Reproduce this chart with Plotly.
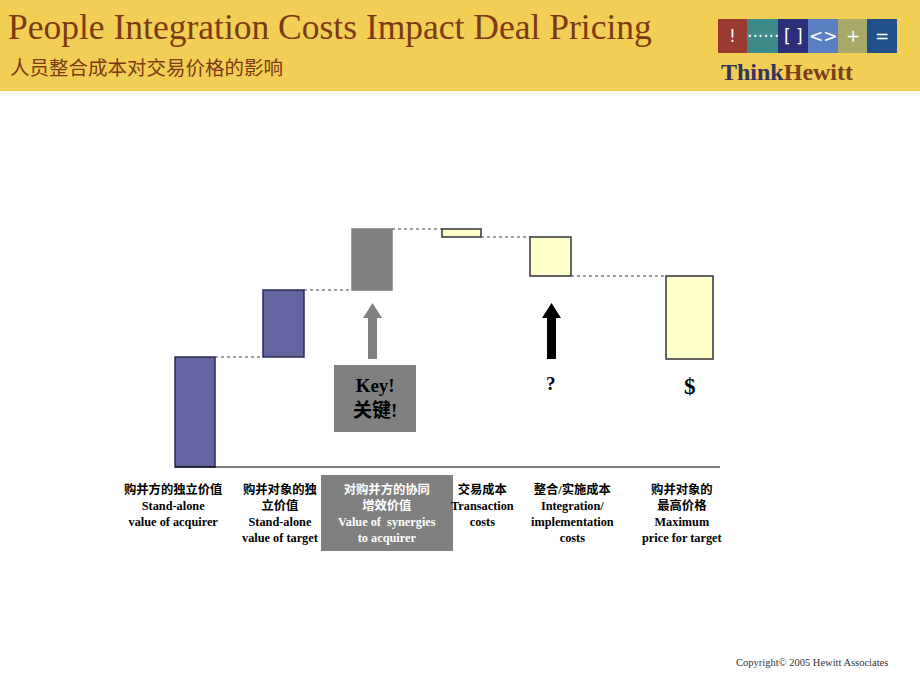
import plotly.graph_objects as go

# ---------------- data ----------------
categories = ["acquirer", "target", "synergies", "transaction", "integration", "max_price"]
step_values = [110, 67, 61, -8, -39]          # waterfall steps
max_price_low = 108                            # bottom of the floating "maximum price" bar
label_cn = ["购并方的独立价值", "购并对象的独<br>立价值", "对购并方的协同<br>增效价值",
            "交易成本", "整合/实施成本", "购并对象的<br>最高价格"]
label_en = ["Stand-alone<br>value of acquirer", "Stand-alone<br>value of target",
            "Value of  synergies<br>to acquirer", "Transaction<br>costs",
            "Integration/<br>implementation<br>costs", "Maximum<br>price for target"]

# ---------------- layout constants ----------------
W, H = 920, 690
BASE_PY = 467                       # pixel row of the zero line
x_pos = [195, 283.5, 372, 461.5, 550.5, 689.5]
bar_w = [40, 41, 40, 39, 41, 47]
label_x = [173, 280, 387, 482, 572, 682]
fills = ["#6464A0", "#6464A0", "#808080", "#FFFFCC", "#FFFFCC", "#FFFFCC"]
lines = ["#2A2A55", "#2A2A55", "#808080", "#333333", "#333333", "#333333"]

SERIF = "Liberation Serif, Noto Sans CJK SC, serif"


def py(v):
    """pixel row -> y data value"""
    return BASE_PY - v


# running totals
bases, heights, totals = [], [], []
run = 0
for v in step_values:
    if v >= 0:
        bases.append(run)
        heights.append(v)
    else:
        bases.append(run + v)
        heights.append(-v)
    run += v
    totals.append(run)
bases.append(max_price_low)
heights.append(run - max_price_low)

fig = go.Figure()
fig.add_trace(go.Bar(
    x=x_pos, y=heights, base=bases, width=bar_w,
    marker=dict(color=fills, line=dict(color=lines, width=1.5)),
    hoverinfo="skip", showlegend=False,
))

shapes = []
# header band
shapes.append(dict(type="rect", xref="paper", yref="paper", x0=0, x1=1,
                   y0=1 - 91 / H, y1=1, fillcolor="#F1CF55", line=dict(width=0), layer="below"))
# logo boxes
logo_edges = [718, 747, 778, 808, 838, 867, 897]
logo_cols = ["#9B3A32", "#3E8A8A", "#2E2F7A", "#5A7FC0", "#A8A86A", "#20508A"]
logo_sym = ["!", "······", "[ ]", "<>", "+", "="]
for i, c in enumerate(logo_cols):
    shapes.append(dict(type="rect", xref="x", yref="y", x0=logo_edges[i], x1=logo_edges[i + 1],
                       y0=py(53), y1=py(19), fillcolor=c, line=dict(width=0)))

# zero line
shapes.append(dict(type="line", xref="x", yref="y", x0=175, x1=720, y0=0, y1=0,
                   line=dict(color="black", width=1)))

# connectors
for i in range(len(step_values)):
    x0 = x_pos[i] + bar_w[i] / 2
    x1 = x_pos[i + 1] - bar_w[i + 1] / 2
    shapes.append(dict(type="line", xref="x", yref="y", x0=x0, x1=x1, y0=totals[i], y1=totals[i],
                       line=dict(color="#444444", width=1.2, dash="dot")))


def arrow(cx, color):
    pts = [(cx - 4.5, 359), (cx + 4.5, 359), (cx + 4.5, 318), (cx + 9.5, 318),
           (cx, 303), (cx - 9.5, 318), (cx - 4.5, 318)]
    path = "M " + " L ".join(f"{x},{py(y)}" for x, y in pts) + " Z"
    return dict(type="path", xref="x", yref="y", path=path, fillcolor=color, line=dict(width=0))


shapes.append(arrow(372.5, "#808080"))
shapes.append(arrow(551.5, "#000000"))
# key box
shapes.append(dict(type="rect", xref="x", yref="y", x0=334, x1=416, y0=py(432), y1=py(365),
                   fillcolor="#808080", line=dict(width=0)))
# highlighted label box
shapes.append(dict(type="rect", xref="x", yref="y", x0=321, x1=453, y0=py(551), y1=py(475),
                   fillcolor="#808080", line=dict(width=0)))

ann = []
ann.append(dict(x=6, y=py(27), xref="x", yref="y", xanchor="left", yanchor="middle",
                text="People Integration Costs Impact Deal Pricing", showarrow=False,
                font=dict(family=SERIF, size=35.5, color="#7B3A14")))
ann.append(dict(x=8, y=py(66), xref="x", yref="y", xanchor="left", yanchor="middle",
                text="人员整合成本对交易价格的影响", showarrow=False,
                font=dict(family="Noto Sans CJK SC", size=19.5, color="#7B3A14")))
for i, s in enumerate(logo_sym):
    ann.append(dict(x=(logo_edges[i] + logo_edges[i + 1]) / 2, y=py(36), xref="x", yref="y",
                    text=s, showarrow=False, font=dict(family="DejaVu Sans", size=17, color="white"),
                    xanchor="center", yanchor="middle"))
ann.append(dict(x=719, y=py(72), xref="x", yref="y", xanchor="left", yanchor="middle",
                text="<b><span style='color:#35325E'>Think</span>Hewitt</b>", showarrow=False,
                font=dict(family=SERIF, size=24, color="#7A3E1A")))

# key text
ann.append(dict(x=375, y=py(398), xref="x", yref="y", text="<b>Key!<br>关键!</b>", showarrow=False,
                font=dict(family=SERIF, size=19, color="black"), xanchor="center", yanchor="middle"))
ann.append(dict(x=551, y=py(383), xref="x", yref="y", text="<b>?</b>", showarrow=False,
                font=dict(family=SERIF, size=19, color="black"), xanchor="center", yanchor="middle"))
ann.append(dict(x=690, y=py(386), xref="x", yref="y", text="<b>$</b>", showarrow=False,
                font=dict(family=SERIF, size=23, color="black"), xanchor="center", yanchor="middle"))

for i in range(len(categories)):
    ann.append(dict(x=label_x[i], y=py(480), xref="x", yref="y", xanchor="center", yanchor="top",
                    text="<b>" + label_cn[i] + "<br>" + label_en[i] + "</b>", showarrow=False, align="center",
                    font=dict(family=SERIF, size=12.3, color="white" if i == 2 else "black")))

ann.append(dict(x=812, y=py(662), xref="x", yref="y", xanchor="center", yanchor="middle",
                text="Copyright© 2005 Hewitt Associates", showarrow=False,
                font=dict(family=SERIF, size=10.5, color="#333333")))

fig.update_layout(
    width=W, height=H, margin=dict(l=0, r=0, t=0, b=0),
    paper_bgcolor="white", plot_bgcolor="white",
    xaxis=dict(range=[0, W], visible=False, fixedrange=True),
    yaxis=dict(range=[BASE_PY - H, BASE_PY], visible=False, fixedrange=True),
    shapes=shapes, annotations=ann, barmode="overlay", showlegend=False,
)

fig.write_html("out.html", config={"displayModeBar": False},
               post_script="document.body.style.margin='0px';document.body.style.overflow='hidden';")
